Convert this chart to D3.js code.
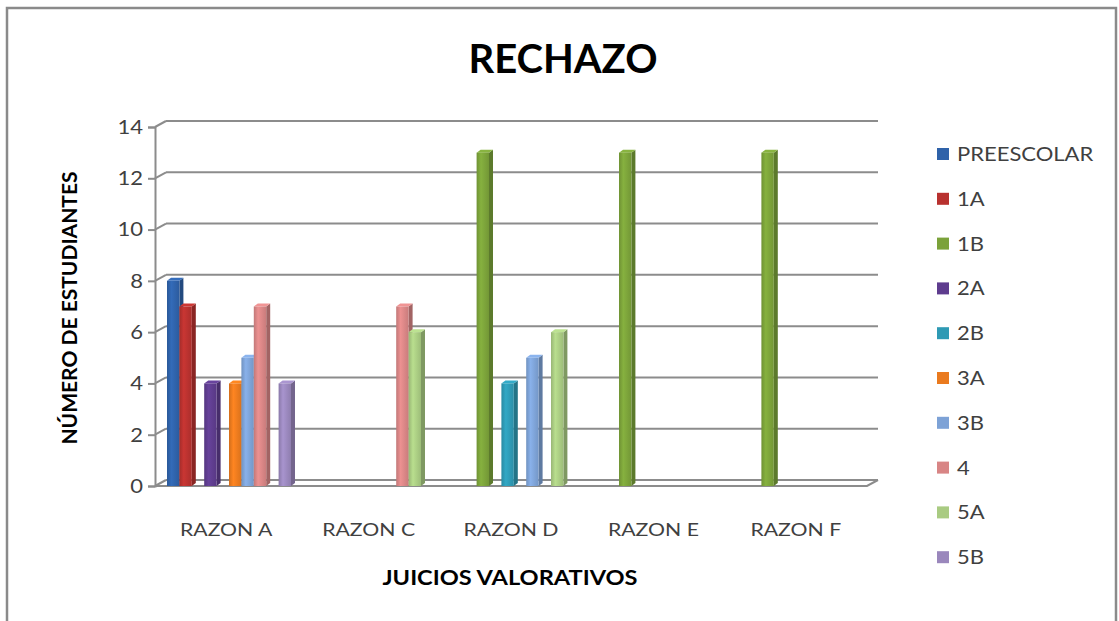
<!DOCTYPE html>
<html>
<head>
<meta charset="utf-8">
<script src="https://cdn.jsdelivr.net/npm/d3@7"></script>
<style>
  body { margin: 0; background: #fff; }
  text { font-family: Lato, "Open Sans", sans-serif; fill: #404040; }
</style>
</head>
<body>
<div id="container"></div>
<script>
/**
 * CONSTANTS AND GLOBALS
 * */
const width = 1119,
  height = 621,
  margin = { top: 127, bottom: 134, left: 155, right: 252 };

// depth of the back wall and of each bar
const wallDx = 11, wallDy = -6;
const barDx = 4, barDy = -3;
// the source picture is stretched sideways a bit
const stretch = 1.18;

/**
 * DATA
 * */
const categories = ["RAZON A", "RAZON C", "RAZON D", "RAZON E", "RAZON F"];
const seriesNames = ["PREESCOLAR", "1A", "1B", "2A", "2B", "3A", "3B", "4", "5A", "5B"];
const seriesColors = ["#2f62a9", "#b8312f", "#7ba23a", "#5e3c8e", "#2e9ab4",
  "#ea7a1e", "#7da2d6", "#d88585", "#a9cb82", "#9a87bc"];

const preescolar = [8, 0, 0, 0, 0];
const g1A = [7, 0, 0, 0, 0];
const g1B = [0, 0, 13, 13, 13];
const g2A = [4, 0, 0, 0, 0];
const g2B = [0, 0, 4, 0, 0];
const g3A = [4, 0, 0, 0, 0];
const g3B = [5, 0, 5, 0, 0];
const g4 = [7, 7, 0, 0, 0];
const g5A = [0, 6, 6, 0, 0];
const g5B = [4, 0, 0, 0, 0];
const seriesValues = [preescolar, g1A, g1B, g2A, g2B, g3A, g3B, g4, g5A, g5B];

const yTicks = [0, 2, 4, 6, 8, 10, 12, 14];

let svg;

init();

function init() {
  svg = d3.select("#container")
    .append("svg")
    .attr("width", width)
    .attr("height", height);

  // outer frame
  svg.append("rect")
    .attr("x", 7).attr("y", 8)
    .attr("width", 1109).attr("height", 630)
    .attr("fill", "#fff")
    .attr("stroke", "#8a8a8a")
    .attr("stroke-width", 2.5);

  const x0 = d3.scaleBand()
    .domain(categories)
    .range([margin.left, width - margin.right]);

  const x1 = d3.scaleBand()
    .domain(seriesNames)
    .range([12, 136]);

  const y = d3.scaleLinear()
    .domain([0, 14])
    .range([height - margin.bottom - 1, margin.top]);

  const right = width - margin.right;

  // back wall gridlines + connectors
  const grid = svg.append("g").attr("stroke", "#8c8c8c").attr("stroke-width", 2).attr("fill", "none");
  grid.selectAll("line.grid")
    .data(yTicks)
    .join("line")
    .attr("class", "grid")
    .attr("x1", margin.left + wallDx)
    .attr("x2", right + wallDx)
    .attr("y1", d => y(d) + wallDy)
    .attr("y2", d => y(d) + wallDy);
  grid.selectAll("line.conn")
    .data(yTicks)
    .join("line")
    .attr("class", "conn")
    .attr("x1", margin.left)
    .attr("x2", margin.left + wallDx)
    .attr("y1", d => y(d))
    .attr("y2", d => y(d) + wallDy);

  // floor front edge and right side
  grid.append("path")
    .attr("d", `M${margin.left},${y(0)}H${right}L${right + wallDx},${y(0) + wallDy}`);

  // bars
  const gradients = svg.append("defs");
  seriesColors.forEach((c, i) => {
    const g = gradients.append("linearGradient")
      .attr("id", "grad" + i)
      .attr("x1", "0").attr("x2", "1").attr("y1", "0").attr("y2", "0");
    g.append("stop").attr("offset", "0%").attr("stop-color", d3.color(c).darker(0.3));
    g.append("stop").attr("offset", "35%").attr("stop-color", d3.color(c).brighter(0.25));
    g.append("stop").attr("offset", "100%").attr("stop-color", d3.color(c).darker(0.2));
  });

  const barData = [];
  categories.forEach((cat, ci) => {
    seriesNames.forEach((s, si) => {
      const v = seriesValues[si][ci];
      if (v > 0) barData.push({ cat, s, si, v });
    });
  });

  const bw = x1.bandwidth();
  const bars = svg.append("g").selectAll("g.bar")
    .data(barData)
    .join("g")
    .attr("class", "bar");

  bars.append("path")
    .attr("fill", d => d3.color(seriesColors[d.si]).darker(0.8))
    .attr("d", d => {
      const xl = x0(d.cat) + x1(d.s) + bw, yt = y(d.v), yb = y(0);
      return `M${xl},${yt}L${xl + barDx},${yt + barDy}L${xl + barDx},${yb + barDy}L${xl},${yb}Z`;
    });
  bars.append("path")
    .attr("fill", d => d3.color(seriesColors[d.si]).brighter(0.3))
    .attr("d", d => {
      const xl = x0(d.cat) + x1(d.s), yt = y(d.v);
      return `M${xl},${yt}L${xl + barDx},${yt + barDy}L${xl + bw + barDx},${yt + barDy}L${xl + bw},${yt}Z`;
    });
  bars.append("rect")
    .attr("x", d => x0(d.cat) + x1(d.s))
    .attr("y", d => y(d.v))
    .attr("width", bw)
    .attr("height", d => y(0) - y(d.v))
    .attr("fill", d => `url(#grad${d.si})`);

  // front y axis
  const yAxis = d3.axisLeft(y).tickValues(yTicks).tickSize(7).tickPadding(5);
  const ya = svg.append("g")
    .attr("transform", `translate(${margin.left},0)`)
    .call(yAxis);
  ya.select(".domain").attr("stroke", "#8c8c8c").attr("stroke-width", 2);
  ya.selectAll(".tick line").attr("stroke", "#8c8c8c").attr("stroke-width", 2);
  ya.selectAll(".tick text")
    .attr("transform", "scale(1.1,1)")
    .attr("x", -12 / 1.1)
    .style("font-size", "20px")
    .attr("fill", "#404040");

  // category labels
  svg.append("g").selectAll("text")
    .data(categories)
    .join("text")
    .attr("transform", d => `translate(${x0(d) + x0.bandwidth() / 2},536) scale(${stretch},1)`)
    .attr("text-anchor", "middle")
    .style("font-size", "18px")
    .text(d => d);

  // titles
  svg.append("text")
    .attr("x", 563).attr("y", 73)
    .attr("text-anchor", "middle")
    .style("font-size", "40px")
    .style("font-weight", "bold")
    .style("fill", "#000")
    .text("RECHAZO");

  svg.append("text")
    .attr("transform", `translate(510,585) scale(${stretch},1)`)
    .attr("text-anchor", "middle")
    .style("font-size", "20px")
    .style("font-weight", "bold")
    .style("fill", "#000")
    .text("JUICIOS VALORATIVOS");

  svg.append("text")
    .attr("transform", "translate(77,308) rotate(-90)")
    .attr("text-anchor", "middle")
    .style("font-size", "21px")
    .style("font-weight", "bold")
    .style("fill", "#000")
    .text("NÚMERO DE ESTUDIANTES");

  // legend
  const legend = svg.append("g").selectAll("g")
    .data(seriesNames)
    .join("g")
    .attr("transform", (d, i) => `translate(937,${154 + i * 44.8})`);
  legend.append("rect")
    .attr("x", 0).attr("y", -6)
    .attr("width", 12).attr("height", 12)
    .attr("fill", (d, i) => seriesColors[i]);
  legend.append("text")
    .attr("transform", "translate(20,7) scale(1.1,1)")
    .style("font-size", "20px")
    .text(d => d);
}
</script>
</body>
</html>
